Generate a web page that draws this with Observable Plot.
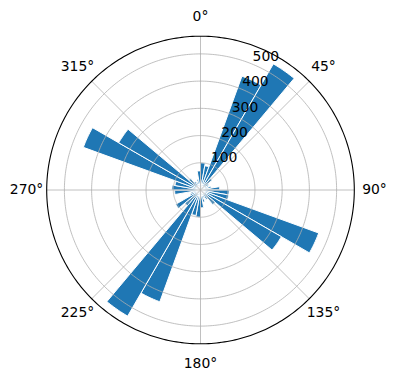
<!DOCTYPE html>
<html>
<head>
<meta charset="utf-8">
<script src="https://cdn.jsdelivr.net/npm/d3@7"></script>
<script src="https://cdn.jsdelivr.net/npm/@observablehq/plot@0.6"></script>
<style>
  html, body { margin: 0; padding: 0; background: #fff; }
</style>
</head>
<body>
<div id="chart"></div>
<script>
// ---- data ----
const directions = [5, 15, 25, 35, 45, 55, 65, 75, 85, 95, 105, 115, 125, 135, 145, 155, 165, 175,
                    185, 195, 205, 215, 225, 235, 245, 255, 265, 275, 285, 295, 305, 315, 325, 335, 345, 355];
const counts = [100, 90, 445, 535, 55, 35, 30, 40, 70, 105, 105, 462, 343, 70, 40, 30, 45, 65,
                100, 95, 437, 535, 75, 105, 40, 35, 95, 105, 95, 458, 347, 55, 35, 30, 40, 70];
const binWidth = 10;           // degrees
const angleTicks = [0, 45, 90, 135, 180, 225, 270, 315];
const angleLabels = ["0°", "45°", "90°", "135°", "180°", "225°", "270°", "315°"];
const radialTicks = [100, 200, 300, 400, 500];
const rMax = 565;

// ---- geometry helpers (polar -> cartesian, 0° at top, clockwise) ----
const rad = d => d * Math.PI / 180;
const px = (deg, r) => r * Math.sin(rad(deg));
const py = (deg, r) => r * Math.cos(rad(deg));

const wedges = [];
directions.forEach((dir, i) => {
  const r = counts[i];
  const a0 = dir - binWidth / 2, a1 = dir + binWidth / 2;
  wedges.push({id: i, x: 0, y: 0});
  const n = 12;
  for (let k = 0; k <= n; k++) {
    const a = a0 + (a1 - a0) * k / n;
    wedges.push({id: i, x: px(a, r), y: py(a, r)});
  }
  wedges.push({id: i, x: 0, y: 0});
});

const circle = (r, id) => d3.range(0, 361, 1).map(a => ({id, x: px(a, r), y: py(a, r)}));
const rings = radialTicks.flatMap((r, i) => circle(r, i));
const outer = circle(rMax, 0);
const spokes = angleTicks.map(a => ({x1: 0, y1: 0, x2: px(a, rMax), y2: py(a, rMax)}));
const thetaLabels = angleTicks.map((a, i) => ({x: px(a, 639), y: py(a, 639), t: angleLabels[i]}));
const rLabels = radialTicks.map(r => ({x: px(22.5, r), y: py(22.5, r), t: String(r)}));

const chart = Plot.plot({
  width: 396,
  height: 380,
  marginLeft: 46.2,
  marginRight: 42.2,
  marginTop: 35.7,
  marginBottom: 36.7,
  x: {domain: [-rMax, rMax], axis: null},
  y: {domain: [-rMax, rMax], axis: null},
  style: {fontFamily: "DejaVu Sans", background: "white", overflow: "visible"},
  marks: [
    Plot.line(wedges, {x: "x", y: "y", z: "id", fill: "#1f77b4", stroke: "white", strokeWidth: 1, curve: "linear", strokeLinejoin: "miter"}),
    Plot.line(rings, {x: "x", y: "y", z: "id", stroke: "#b0b0b0", strokeWidth: 0.8}),
    Plot.link(spokes, {x1: "x1", y1: "y1", x2: "x2", y2: "y2", stroke: "#b0b0b0", strokeWidth: 0.8}),
    Plot.line(outer, {x: "x", y: "y", stroke: "black", strokeWidth: 1.1}),
    Plot.text(rLabels, {x: "x", y: "y", text: "t", textAnchor: "start", lineAnchor: "bottom", fontSize: 13.9, fill: "black", dy: -3}),
    Plot.text(thetaLabels, {x: "x", y: "y", text: "t", textAnchor: "middle", lineAnchor: "middle", fontSize: 13.9, fill: "black"})
  ]
});
document.getElementById("chart").appendChild(chart);
</script>
</body>
</html>
